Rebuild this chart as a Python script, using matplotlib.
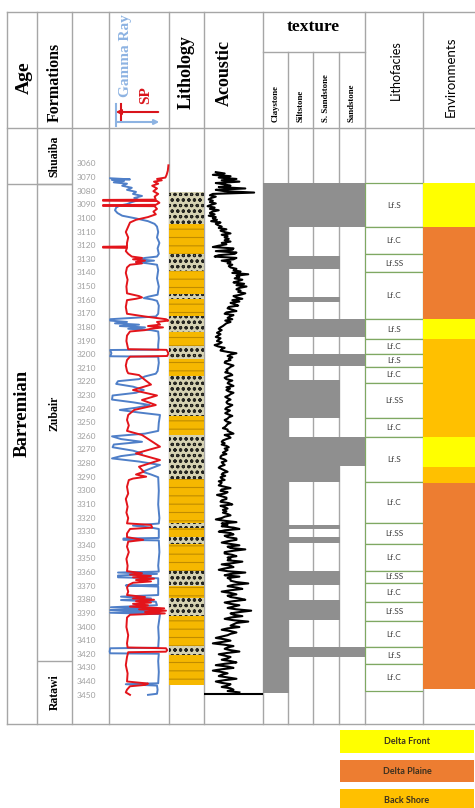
import matplotlib.pyplot as plt
from matplotlib.patches import Rectangle
import numpy as np

# figure size in pixels, table geometry in pixels (y measured from top)
W, H = 475, 808
TABLE_TOP, HEAD_BOT, TABLE_BOT = 12, 128, 724
D_TOP, D_BOT = 3033.6, 3471.2          # depth at header base / table bottom

SERIF = 'Liberation Serif'
SANS = 'Lato'

# ---------------- data ----------------
DEPTH_TICKS = list(range(3060, 3451, 10))

AGE_NAME = 'Barremian'
AGE_TOP = 3075
FORMATIONS = ['Shuaiba', 'Zubair', 'Ratawi']
FORM_TOPS = [3033.6, 3075, 3425]
FORM_BASES = [3075, 3425, 3471.2]
LABEL_DEPTH_MAIN = 3243               # Barremian / Zubair label height

# gamma ray (blue), track units 0-100
GR_DEPTH = [3070.5, 3071.3, 3071.8, 3072.5, 3073.5, 3074.5, 3076, 3077.5, 3079, 3080.5,
            3082, 3083.5, 3085, 3086.5, 3088, 3089.5, 3090.5, 3092, 3094, 3096,
            3098, 3100, 3102, 3104, 3106, 3110, 3114, 3118, 3122, 3126,
            3128, 3129, 3130, 3131, 3132, 3133, 3134, 3138, 3144, 3150,
            3156, 3157.5, 3158.5, 3159.5, 3160.5, 3164, 3170, 3172, 3173, 3174,
            3175, 3176, 3177, 3178, 3179, 3180, 3181, 3182, 3183, 3188,
            3193, 3196.3, 3196.6, 3199, 3201.2, 3201.5, 3206, 3212, 3214, 3216,
            3218, 3219.5, 3221.5, 3223.5, 3226, 3228, 3230, 3233, 3235, 3237,
            3239, 3240.6, 3242.5, 3244.3, 3250, 3256, 3258, 3260, 3262, 3264,
            3266, 3268, 3270.5, 3272.5, 3274.5, 3276.2, 3278.5, 3281, 3283.5, 3286,
            3288, 3290, 3300, 3310, 3320, 3324, 3325.5, 3327, 3328, 3334.6,
            3335, 3336, 3336.4, 3345, 3355, 3359.3, 3360, 3361, 3362.2, 3363.5,
            3364.2, 3369, 3369.5, 3370.3, 3376.5, 3377.7, 3379, 3380.2, 3381.4, 3384,
            3385.5, 3386.5, 3387.5, 3388.5, 3389.5, 3390.5, 3400, 3408, 3415.2, 3415.6,
            3418, 3419.3, 3419.6, 3425, 3433, 3441.3, 3442, 3443, 3446, 3449,
            3449.8]
GR_VALUE = [2, 35, 5, 25, 8, 30, 22, 38, 30, 45,
            40, 55, 42, 50, 38, 30, 18, 12, 10, 14,
            22, 45, 65, 76, 80, 82, 80, 84, 81, 83,
            80, 60, 48, 75, 45, 65, 80, 82, 80, 83,
            81, 65, 58, 72, 80, 83, 82, 78, 40, 2,
            2, 30, 10, 50, 18, 60, 32, 70, 82, 83,
            82, 82, 2, 4, 2, 82, 83, 81, 78, 60,
            50, 15, 12, 40, 58, 45, 6, 5, 40, 68,
            45, 18, 50, 85, 83, 82, 60, 5, 20, 55,
            8, 6, 40, 55, 20, 5, 50, 85, 70, 56,
            70, 82, 83, 82, 84, 83, 40, 70, 83, 83,
            24, 24, 83, 84, 82, 83, 15, 80, 15, 15,
            82, 82, 28, 82, 82, 20, 70, 20, 78, 80,
            3, 85, 2, 80, 2, 85, 82, 83, 82, 2,
            1, 2, 83, 82, 83, 82, 28, 80, 81, 80,
            65]

# spontaneous potential (red), track units 0-100
SP_DEPTH = [3061, 3065, 3068, 3070, 3071, 3072, 3073, 3074.5, 3076, 3078,
            3080, 3082, 3084, 3086.2, 3086.4, 3087, 3087.2, 3088.5, 3090, 3090.2,
            3090.8, 3091, 3093, 3095, 3097, 3099, 3101, 3103, 3106, 3110,
            3114, 3118, 3120.6, 3120.8, 3121.4, 3121.6, 3124, 3126, 3128, 3129,
            3130, 3131, 3132, 3133, 3134, 3136, 3140, 3145, 3150, 3155,
            3157, 3158, 3159, 3160, 3165, 3170, 3172, 3174, 3175, 3176,
            3178, 3179, 3180, 3181, 3182, 3183, 3186, 3190, 3196, 3196.5,
            3199, 3201, 3201.5, 3204, 3208, 3212, 3213.7, 3215, 3218.6, 3222,
            3226, 3230, 3233.3, 3237, 3240.6, 3244.3, 3248, 3252, 3256, 3259,
            3262.7, 3267.6, 3272.5, 3277.4, 3282.3, 3286, 3288, 3289.6, 3291, 3292.1,
            3297, 3302, 3306, 3311.7, 3316, 3320, 3323.9, 3325, 3327, 3328,
            3331.3, 3334, 3336, 3337.3, 3341, 3345, 3350, 3355, 3359, 3360.5,
            3361.5, 3362.5, 3363.5, 3364.5, 3365.5, 3366.5, 3367.5, 3369, 3371, 3374,
            3376.5, 3378, 3379, 3380, 3381, 3382, 3383, 3384, 3385, 3386.3,
            3387, 3388, 3389, 3390, 3391, 3393, 3400, 3406, 3412, 3415,
            3415.6, 3417, 3418.1, 3418.5, 3422, 3428, 3434, 3440, 3441.5, 3442.5,
            3443.5, 3446, 3448, 3449.8]
SP_VALUE = [99, 98, 96, 94, 80, 88, 75, 82, 72, 80,
            74, 82, 76, 78, -10, -10, 80, 84, 78, -10,
            -10, 76, 80, 74, 78, 65, 45, 35, 32, 28,
            32, 30, 30, -10, -10, 30, 28, 32, 38, 55,
            40, 60, 45, 55, 35, 30, 28, 31, 29, 30,
            50, 55, 45, 30, 28, 30, 60, 95, 99, 80,
            85, 65, 90, 70, 60, 35, 30, 29, 32, 96,
            99, 97, 35, 30, 28, 30, 32, 50, 60, 70,
            40, 80, 55, 78, 42, 32, 30, 33, 30, 55,
            68, 85, 45, 85, 50, 58, 45, 62, 40, 33,
            30, 32, 28, 31, 29, 32, 30, 70, 72, 35,
            30, 30, 57, 32, 30, 33, 29, 31, 30, 55,
            35, 70, 40, 75, 45, 70, 40, 33, 30, 32,
            30, 60, 40, 75, 45, 70, 40, 65, 35, 92,
            50, 95, 60, 93, 35, 30, 29, 32, 30, 31,
            95, 97, 95, 32, 30, 28, 31, 30, 65, 60,
            35, 30, 28, 35]

# lithology column
LITH_TOP = [3080.3, 3104, 3126.3, 3138.6, 3155.4, 3159, 3171.4, 3183.6, 3193.6, 3203,
            3215.6, 3245, 3259, 3291.5, 3323.8, 3327.5, 3334, 3339, 3358.6, 3369.8,
            3379, 3392, 3414, 3420.5]
LITH_BASE = [3104, 3126.3, 3138.6, 3155.4, 3159, 3171.4, 3183.6, 3193.6, 3203, 3215.6,
             3245, 3259, 3291.5, 3323.8, 3327.5, 3334, 3339, 3358.6, 3369.8, 3379,
             3392, 3414, 3420.5, 3442.5]
LITH_TYPE = ['sand', 'shale'] * 12

# acoustic log, one reading per metre from 3066 m, track units 0-100
ACOUSTIC_START = 3066
ACOUSTIC = [20, 35, 15, 45, 25, 55, 30, 60, 20, 35,
            45, 25, 70, 20, 35, 85, 15, 10, 20, 12,
            8, 15, 10, 20, 12, 6, 18, 10, 25, 14,
            10, 18, 8, 20, 15, 22, 12, 28, 20, 24,
            30, 25, 38, 28, 35, 45, 30, 40, 35, 42,
            35, 45, 30, 38, 25, 15, 50, 48, 20, 55,
            52, 25, 18, 55, 50, 30, 45, 40, 48, 42,
            45, 55, 50, 62, 48, 75, 55, 60, 52, 65,
            58, 50, 68, 55, 72, 60, 55, 62, 58, 70,
            62, 50, 55, 65, 48, 60, 45, 52, 58, 42,
            40, 48, 55, 38, 35, 50, 44, 40, 48, 36,
            45, 38, 35, 32, 28, 25, 30, 26, 22, 28,
            24, 20, 28, 25, 22, 30, 26, 18, 24, 35,
            30, 28, 40, 55, 45, 40, 48, 42, 45, 36,
            35, 42, 50, 45, 42, 38, 40, 36, 45, 48,
            40, 35, 38, 48, 42, 40, 45, 50, 38, 44,
            38, 42, 50, 45, 42, 36, 40, 45, 40, 38,
            40, 48, 44, 38, 36, 44, 40, 36, 42, 48,
            42, 40, 35, 38, 45, 40, 38, 36, 32, 40,
            40, 45, 50, 35, 42, 45, 38, 32, 30, 35,
            30, 38, 42, 35, 40, 36, 32, 38, 30, 28,
            28, 35, 38, 30, 32, 35, 28, 25, 30, 35,
            40, 32, 30, 36, 28, 30, 35, 25, 30, 28,
            25, 35, 45, 30, 28, 40, 35, 22, 30, 38,
            38, 30, 28, 42, 48, 28, 35, 40, 32, 38,
            32, 40, 45, 35, 30, 20, 35, 55, 30, 40,
            30, 50, 60, 35, 25, 45, 50, 35, 40, 55,
            55, 40, 30, 45, 60, 40, 45, 70, 50, 35,
            35, 48, 55, 40, 45, 40, 65, 50, 30, 45,
            50, 35, 25, 40, 70, 45, 35, 60, 40, 45,
            45, 55, 75, 50, 40, 55, 65, 45, 30, 45,
            55, 40, 45, 60, 70, 50, 35, 45, 60, 50,
            40, 55, 80, 60, 45, 50, 65, 45, 35, 50,
            75, 55, 50, 45, 60, 40, 30, 45, 55, 45,
            40, 30, 20, 35, 45, 30, 15, 35, 50, 40,
            35, 45, 60, 40, 25, 35, 45, 40, 30, 45,
            55, 35, 20, 40, 50, 30, 15, 30, 40, 30,
            25, 40, 55, 35, 20, 30, 45, 40, 30, 45,
            50, 40, 60]
ACOUSTIC_BASE = 3449.3

# texture: grain-size columns filled (1 claystone .. 4 sandstone)
TEXTURE_NAMES = ['Claystone', 'Siltstone', 'S. Sandstone', 'Sandstone']
TEX_TOP = [3073.8, 3073.8, 3127.5, 3157.4, 3174, 3199.5, 3218.6, 3260.7, 3281.5, 3325,
           3334, 3358.6, 3380, 3414.8]
TEX_BASE = [3448.6, 3106.5, 3137, 3161, 3186.8, 3208.3, 3246.7, 3281.5, 3293.3, 3328.3,
            3338.5, 3369, 3394.8, 3422.3]
TEX_LEVEL = [1, 4, 3, 3, 4, 4, 3, 4, 3, 3, 3, 3, 3, 4]

# lithofacies
LF_TOP = [3074.2, 3106.5, 3126.1, 3139.5, 3174, 3188.7, 3199.5, 3208.8, 3220.6, 3246.7,
          3260.7, 3293.3, 3323.4, 3339, 3358.6, 3367.9, 3381.4, 3395.3, 3415, 3427.2]
LF_BASE = LF_TOP[1:] + [3446.9]
LF_LABEL = ['Lf.S', 'Lf.C', 'Lf.SS', 'Lf.C', 'Lf.S', 'Lf.C', 'Lf.S', 'Lf.C', 'Lf.SS', 'Lf.C',
            'Lf.S', 'Lf.C', 'Lf.SS', 'Lf.C', 'Lf.SS', 'Lf.C', 'Lf.SS', 'Lf.C', 'Lf.S', 'Lf.C']

# environments
ENV_TOP = [3074.2, 3106.5, 3174, 3188.7, 3260.7, 3282.6, 3294.5]
ENV_BASE = [3106.5, 3174, 3188.7, 3260.7, 3282.6, 3294.5, 3445.6]
ENV_NAME = ['Delta Front', 'Delta Plaine', 'Delta Front', 'Back Shore',
            'Delta Front', 'Back Shore', 'Delta Plaine']
ENV_LEGEND = ['Delta Front', 'Delta Plaine', 'Back Shore']
ENV_COLORS = {'Delta Front': '#ffff00', 'Delta Plaine': '#ed7d31', 'Back Shore': '#ffc000'}

GRID = '#a6a6a6'

fig = plt.figure(figsize=(W / 100, H / 100), dpi=100)


def track(x0, x1, xmax=100):
    ax = fig.add_axes([x0 / W, 1 - TABLE_BOT / H, (x1 - x0) / W, (TABLE_BOT - HEAD_BOT) / H])
    ax.set_xlim(0, xmax)
    ax.set_ylim(D_BOT, D_TOP)
    ax.axis('off')
    return ax


# background grid + header text (pixel coordinates)
ax0 = fig.add_axes([0, 0, 1, 1])
ax0.set_xlim(0, W)
ax0.set_ylim(H, 0)
ax0.axis('off')
ax0.set_zorder(-1)

for x in [7, 37, 72, 109, 169, 204, 263, 365, 423]:
    ax0.plot([x, x], [TABLE_TOP, TABLE_BOT], color=GRID, lw=1)
for x in [288, 313, 339]:
    ax0.plot([x, x], [52, TABLE_BOT], color=GRID, lw=1)
for y in [TABLE_TOP, HEAD_BOT, TABLE_BOT]:
    ax0.plot([7, W], [y, y], color=GRID, lw=1)
ax0.plot([263, 365], [52, 52], color=GRID, lw=1)

hk = dict(family=SERIF, weight='bold', rotation=90, ha='center', va='center')
ax0.text(24, 78, 'Age', fontsize=14, **hk)
ax0.text(55, 82, 'Formations', fontsize=11.5, **hk)
ax0.text(125, 56, 'Gamma Ray', fontsize=11, color='#8db3e2', **hk)
ax0.text(146, 95, 'SP', fontsize=11, color='#d9141b', **hk)
ax0.text(186, 72, 'Lithology', fontsize=13, **hk)
ax0.text(224, 73, 'Acoustic', fontsize=13, **hk)
ax0.text(313, 27, 'texture', fontsize=12.5, family=SERIF, weight='bold', ha='center', va='center')
for xc, name in zip([275.5, 300.5, 326, 352], TEXTURE_NAMES):
    ax0.text(xc, 122, name, fontsize=6.3, family=SERIF, weight='bold', rotation=90,
             ha='center', va='bottom')
ax0.text(396, 70, 'Lithofacies', fontsize=9, family=SANS, rotation=90, ha='center', va='center')
ax0.text(451, 77, 'Environments', fontsize=9.5, family=SANS, rotation=90, ha='center', va='center')

# gamma ray / SP header arrows
ax0.annotate('', xy=(113, 112), xytext=(161, 112),
             arrowprops=dict(arrowstyle='-|>', color='#d9141b', lw=1.5, mutation_scale=7))
ax0.annotate('', xy=(162, 122), xytext=(114, 122),
             arrowprops=dict(arrowstyle='-|>', color='#8db3e2', lw=1.5, mutation_scale=7))
ax0.plot([116, 116], [104, 126], color='#8db3e2', lw=1.5)
ax0.plot([121, 121], [104, 120], color='#d9141b', lw=1.5)

# environment legend
for i, name in enumerate(ENV_LEGEND):
    y0 = 730 + i * 29.5
    ax0.add_patch(Rectangle((340, y0), 134, 22.5, color=ENV_COLORS[name], lw=0))
    ax0.text(407, y0 + 11.5, name, fontsize=6.5, family=SANS, weight='bold',
             color='#3a3020', ha='center', va='center')

# age + formations
ax_age = track(7, 72)
ax_age.hlines(AGE_TOP, 0, 100, color=GRID, lw=1)
ax_age.text(23, LABEL_DEPTH_MAIN, AGE_NAME, fontsize=13.5, family=SERIF, weight='bold',
            rotation=90, ha='center', va='center')
for name, top, base in zip(FORMATIONS, FORM_TOPS, FORM_BASES):
    if top > D_TOP:
        ax_age.hlines(top, 46, 100, color=GRID, lw=1)
    yc = LABEL_DEPTH_MAIN if name == 'Zubair' else (top + base) / 2
    ax_age.text(73, yc, name, fontsize=8.5, family=SERIF, weight='bold',
                rotation=90, ha='center', va='center')

# depth labels
ax_d = track(72, 109)
for d in DEPTH_TICKS:
    ax_d.text(13, d, str(d), fontsize=6, family=SANS, color='#a0a0a0', ha='left', va='center')

# gamma ray + SP
ax_gr = track(109, 169)
ax_gr.plot(GR_VALUE, GR_DEPTH, color='#4f7fc8', lw=1.4, clip_on=False)
ax_gr.plot(SP_VALUE, SP_DEPTH, color='#e3141b', lw=1.4, clip_on=False)

# lithology
plt.rcParams['hatch.linewidth'] = 0.8
ax_lit = track(169, 204)
for top, base, kind in zip(LITH_TOP, LITH_BASE, LITH_TYPE):
    if kind == 'sand':
        ax_lit.barh(top, 100, height=base - top, left=0, align='edge',
                    facecolor='#d6d2b2', edgecolor='#252520', hatch='ooo', lw=0)
    else:
        ax_lit.barh(top, 100, height=base - top, left=0, align='edge',
                    facecolor='#f6b800', edgecolor='#c08c00', hatch='--', lw=0)

# acoustic
ax_ac = track(204, 263)
ac_depth = ACOUSTIC_START + np.arange(len(ACOUSTIC))
ax_ac.plot(ACOUSTIC, ac_depth, color='black', lw=1.5)
ax_ac.axhline(ACOUSTIC_BASE, color='black', lw=1.5)

# texture
ax_tex = track(263, 365, xmax=4)
for top, base, lvl in zip(TEX_TOP, TEX_BASE, TEX_LEVEL):
    ax_tex.barh(top, lvl, height=base - top, left=0, align='edge', color='#8f8f8f', lw=0)

# lithofacies
ax_lf = track(365, 423)
for top, base, lab in zip(LF_TOP, LF_BASE, LF_LABEL):
    ax_lf.barh(top, 100, height=base - top, left=0, align='edge',
               facecolor='white', edgecolor='#7fa862', lw=0.9)
    ax_lf.text(50, (top + base) / 2, lab, fontsize=6, family=SANS, color='#404040',
               ha='center', va='center')

# environments
ax_env = track(423, 475)
for top, base, name in zip(ENV_TOP, ENV_BASE, ENV_NAME):
    ax_env.barh(top, 100, height=base - top, left=0, align='edge',
                color=ENV_COLORS[name], lw=0)

fig.savefig('out.png', dpi=100, facecolor='white')
